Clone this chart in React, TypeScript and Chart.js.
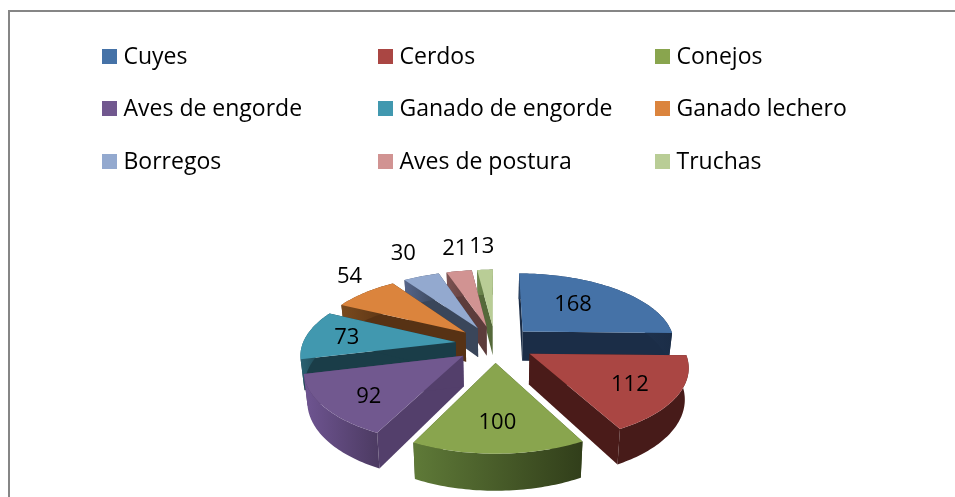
import React, { useEffect, useRef } from "react";
import { Chart, registerables } from "chart.js";

Chart.register(...registerables);

const categories = ["Cuyes", "Cerdos", "Conejos", "Aves de engorde", "Ganado de engorde", "Ganado lechero", "Borregos", "Aves de postura", "Truchas"];
const values = [168, 112, 100, 92, 73, 54, 30, 21, 13];

const topColors = ["#4572a7", "#aa4643", "#89a54e", "#71588f", "#4198af", "#db843d", "#93a9cf", "#d19392", "#b9cd96"];
const faceColors = ["#1b2d47", "#4a1b19", "#3f4f22", "#533f6b", "#1a3d48", "#573214", "#3a465a", "#5c3c3b", "#55693a"];
const wallLeft = ["#2a4466", "#471b19", "#5f7a38", "#6f5592", "#2a6272", "#7a4a1e", "#55658a", "#7d5352", "#6f8a4f"];
const wallRight = ["#1b2d47", "#471b19", "#313e1a", "#4d3b63", "#1a3d48", "#573214", "#3a465a", "#5c3c3b", "#55693a"];
const labelRadius = [0.59, 0.7, 0.68, 0.73, 0.73, 1.345, 1.54, 1.51, 1.52];
const labelAngleShift = [-6.3, 0.7, 0, -3.6, 0, 6.3, 2.4, 2.3, 0];

const legendColumns = [102, 378, 655];
const legendRows = [49, 101, 154];
const FONT = '"Open Sans"';
const EXPLODE = 0.26;
const SQUASH = 0.46;
const PERSPECTIVE = 0.152;
const DEPTH = 0.196;

const pie3d = {
  id: "pie3d",
  beforeDatasetsDraw(chart: any) {
    const ctx = chart.ctx as CanvasRenderingContext2D;
    const arcs = chart.getDatasetMeta(0).data as any[];

    const project = (arc: any, u: number, v: number, lower: boolean) => {
      const R = arc.outerRadius;
      const s = 1 / (1 - PERSPECTIVE * v);
      const shrink = lower ? 0.98 : 1;
      return {
        x: arc.x + R * u * s * shrink,
        y: arc.y + R * SQUASH * v * s + (lower ? R * DEPTH * s : 0),
      };
    };

    const slices = arcs.map((arc, i) => {
      const mid = (arc.startAngle + arc.endAngle) / 2;
      const ex = EXPLODE * Math.cos(mid);
      const ey = EXPLODE * Math.sin(mid);
      return { arc, i, mid, ex, ey };
    });

    const order = [...slices].sort((a, b) => a.ey - b.ey);

    for (const { arc, i, ex, ey } of order) {
      const point = (a: number, r: number, lower: boolean) =>
        project(arc, ex + r * Math.cos(a), ey + r * Math.sin(a), lower);
      const steps = Math.max(4, Math.ceil((arc.endAngle - arc.startAngle) / 0.02));
      const along = (k: number) => arc.startAngle + ((arc.endAngle - arc.startAngle) * k) / steps;

      // radial faces
      for (const a of [arc.startAngle, arc.endAngle]) {
        const p0 = point(a, 0, false);
        const p1 = point(a, 1, false);
        const p2 = point(a, 1, true);
        const p3 = point(a, 0, true);
        ctx.beginPath();
        ctx.moveTo(p0.x, p0.y);
        ctx.lineTo(p1.x, p1.y);
        ctx.lineTo(p2.x, p2.y);
        ctx.lineTo(p3.x, p3.y);
        ctx.closePath();
        ctx.fillStyle = faceColors[i];
        ctx.fill();
      }

      // outer wall
      const first = point(arc.startAngle, 1, false);
      const last = point(arc.endAngle, 1, false);
      const gx0 = Math.min(first.x, last.x);
      const gx1 = Math.max(first.x, last.x);
      const grad = ctx.createLinearGradient(gx0, 0, gx1 + 0.01, 0);
      grad.addColorStop(0, wallLeft[i]);
      grad.addColorStop(1, wallRight[i]);
      ctx.beginPath();
      for (let k = 0; k <= steps; k++) {
        const p = point(along(k), 1, false);
        if (k === 0) ctx.moveTo(p.x, p.y);
        else ctx.lineTo(p.x, p.y);
      }
      for (let k = steps; k >= 0; k--) {
        const p = point(along(k), 1, true);
        ctx.lineTo(p.x, p.y);
      }
      ctx.closePath();
      ctx.fillStyle = grad;
      ctx.fill();

      // top
      const apex = point(0, 0, false);
      ctx.beginPath();
      ctx.moveTo(apex.x, apex.y);
      for (let k = 0; k <= steps; k++) {
        const p = point(along(k), 1, false);
        ctx.lineTo(p.x, p.y);
      }
      ctx.closePath();
      ctx.fillStyle = topColors[i];
      ctx.fill();
    }

    // value labels
    ctx.font = `22px ${FONT}`;
    ctx.fillStyle = "#000";
    ctx.textAlign = "center";
    ctx.textBaseline = "middle";
    for (const { arc, i, mid, ex, ey } of slices) {
      const a = mid + (labelAngleShift[i] * Math.PI) / 180;
      const p = project(arc, ex + labelRadius[i] * Math.cos(a), ey + labelRadius[i] * Math.sin(a), false);
      ctx.fillText(String(values[i]), p.x, p.y + 1.5);
    }
    return false;
  },
  afterDraw(chart: any) {
    const ctx = chart.ctx as CanvasRenderingContext2D;
    ctx.save();
    // frame
    ctx.strokeStyle = "#868686";
    ctx.lineWidth = 2;
    ctx.beginPath();
    ctx.moveTo(9, 497);
    ctx.lineTo(9, 11);
    ctx.lineTo(955, 11);
    ctx.stroke();
    // legend
    ctx.font = `23px ${FONT}`;
    ctx.textAlign = "left";
    ctx.textBaseline = "alphabetic";
    categories.forEach((name, i) => {
      const x = legendColumns[i % 3];
      const y = legendRows[Math.floor(i / 3)];
      ctx.fillStyle = topColors[i];
      ctx.fillRect(x, y, 15, 15);
      ctx.fillStyle = "#000";
      ctx.fillText(name, x + 21.5, y + 15);
    });
    ctx.restore();
  },
};

export default function App() {
  const ref = useRef<HTMLCanvasElement | null>(null);
  useEffect(() => {
    const chart = new Chart(ref.current as HTMLCanvasElement, {
      type: "pie",
      data: {
        labels: categories,
        datasets: [{ data: values, backgroundColor: topColors, borderWidth: 0 }],
      },
      options: {
        responsive: false,
        animation: false,
        layout: { padding: { left: 342, right: 307, top: 191, bottom: 0 } },
        plugins: { legend: { display: false }, tooltip: { enabled: false } },
      },
      plugins: [pie3d],
    } as any);
    return () => chart.destroy();
  }, []);
  return (
    <div style={{ position: "absolute", left: 0, top: 0, width: 955, height: 497, background: "#fff", overflow: "hidden" }}>
      <canvas ref={ref} width={955} height={497} style={{ display: "block" }} />
    </div>
  );
}
